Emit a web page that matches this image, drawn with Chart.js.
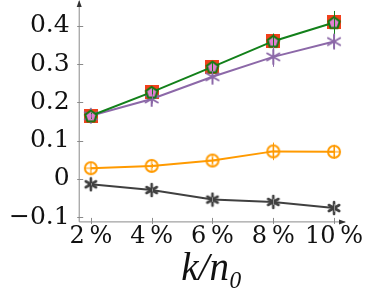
<!DOCTYPE html>
<html>
<head>
<meta charset="utf-8">
<script src="https://cdn.jsdelivr.net/npm/chart.js@4/dist/chart.umd.min.js"></script>
<style>
  html, body { margin: 0; padding: 0; background: #fff; }
  #wrap { width: 370px; height: 293px; }
</style>
</head>
<body>
<div id="wrap"><canvas id="c" width="370" height="293"></canvas></div>
<script>
// --- 資料 ---
const xValues = [2, 4, 6, 8, 10];
const squareVals = [0.165, 0.227, 0.293, 0.360, 0.409];
const greenVals = [0.165, 0.227, 0.293, 0.360, 0.409];
const purpleVals = [0.165, 0.209, 0.267, 0.319, 0.359];
const orangeVals = [0.028, 0.034, 0.048, 0.072, 0.071];
const grayVals = [-0.014, -0.029, -0.054, -0.060, -0.076];

const greenErr = [0.008, 0.010, 0.015, 0.020, 0.030];
const purpleErr = [0.005, 0.012, 0.015, 0.026, 0.020];
const orangeErr = [0.003, 0.005, 0.008, 0.023, 0.018];
const grayErr = [0.003, 0.004, 0.006, 0.008, 0.010];

const yTickStep = 0.1;
const xTickStep = 2;

const pts = (vals) => vals.map((v, i) => ({ x: xValues[i], y: v }));

// --- 標記圖形 ---
function makeMarker(size, drawFn) {
    const cv = document.createElement('canvas');
    cv.width = size; cv.height = size;
    const g = cv.getContext('2d');
    drawFn(g, size / 2);
    return cv;
}

const square = makeMarker(14, (g, c) => {
    g.fillStyle = '#f2401c';
    g.fillRect(0, 0, 14, 14);
});

const pentagon = makeMarker(16, (g, c) => {
    g.beginPath();
    for (let i = 0; i < 5; i++) {
        const a = -Math.PI / 2 + i * 2 * Math.PI / 5;
        const r = 6;
        const px = c + r * Math.cos(a), py = c + 0.7 + r * Math.sin(a);
        i ? g.lineTo(px, py) : g.moveTo(px, py);
    }
    g.closePath();
    g.fillStyle = '#e27fd2';
    g.fill();
    g.lineWidth = 2;
    g.strokeStyle = '#0f7a0f';
    g.stroke();
});

function asterisk(color, r, w) {
    return makeMarker(2 * r + 4, (g, c) => {
        g.strokeStyle = color;
        g.lineWidth = w;
        g.lineCap = 'round';
        for (let i = 0; i < 3; i++) {
            const a = Math.PI / 2 + i * Math.PI / 3;
            g.beginPath();
            g.moveTo(c + r * Math.cos(a), c + r * Math.sin(a));
            g.lineTo(c - r * Math.cos(a), c - r * Math.sin(a));
            g.stroke();
        }
    });
}

const oplus = makeMarker(18, (g, c) => {
    g.strokeStyle = '#ff9a00';
    g.lineWidth = 2;
    g.beginPath();
    g.arc(c, c, 6, 0, Math.PI * 2);
    g.stroke();
    g.lineWidth = 1.2;
    g.beginPath();
    g.moveTo(c - 6, c); g.lineTo(c + 6, c);
    g.moveTo(c, c - 6); g.lineTo(c, c + 6);
    g.stroke();
});

// --- 誤差線與座標軸箭頭 ---
const errorBarPlugin = {
    id: 'errorBars',
    afterDatasetsDraw(chart) {
        const ctx = chart.ctx;
        const ys = chart.scales.y, xs = chart.scales.x;
        chart.data.datasets.forEach(ds => {
            if (!ds.errors) return;
            ctx.save();
            ctx.strokeStyle = ds.errColor || ds.borderColor;
            ctx.lineWidth = 1;
            ds.data.forEach((p, i) => {
                const px = Math.round(xs.getPixelForValue(p.x)) + 0.5;
                ctx.beginPath();
                ctx.moveTo(px, ys.getPixelForValue(p.y + ds.errors[i]));
                ctx.lineTo(px, ys.getPixelForValue(p.y - ds.errors[i]));
                ctx.stroke();
            });
            ctx.restore();
        });
    }
};

const axisPlugin = {
    id: 'axisArrows',
    afterDraw(chart) {
        const ctx = chart.ctx;
        const a = chart.chartArea;
        const xs = chart.scales.x, ys = chart.scales.y;
        const x0 = a.left + 0.5, y0 = a.bottom + 0.5;
        ctx.save();
        ctx.strokeStyle = '#8a8a8a';
        ctx.lineWidth = 1;
        ctx.beginPath();
        ctx.moveTo(x0, y0); ctx.lineTo(x0, a.top);
        ctx.moveTo(x0, y0); ctx.lineTo(a.right, y0);
        // 短刻度
        ys.ticks.forEach(t => {
            const py = Math.round(ys.getPixelForValue(t.value)) + 0.5;
            ctx.moveTo(x0 - 2, py); ctx.lineTo(x0 + 4, py);
        });
        xs.ticks.forEach(t => {
            const px = Math.round(xs.getPixelForValue(t.value)) + 0.5;
            ctx.moveTo(px, y0 + 2); ctx.lineTo(px, y0 - 4);
        });
        ctx.stroke();
        ctx.fillStyle = '#333';
        ctx.beginPath();
        ctx.moveTo(x0, a.top - 1); ctx.lineTo(x0 - 2.5, a.top + 6); ctx.lineTo(x0 + 2.5, a.top + 6);
        ctx.closePath(); ctx.fill();
        ctx.beginPath();
        ctx.moveTo(a.right + 1, y0); ctx.lineTo(a.right - 6, y0 - 2.5); ctx.lineTo(a.right - 6, y0 + 2.5);
        ctx.closePath(); ctx.fill();
        ctx.restore();
    }
};

const serif = "'DejaVu Serif', serif";
const italicSerif = "'Liberation Serif', serif";

// 移除 Chart.js 為首尾刻度標籤保留的邊距
const noEdgePad = scale => {
    scale.paddingTop = 0; scale.paddingBottom = 0;
    scale.paddingLeft = 0; scale.paddingRight = 0;
};

// 圖片標記：半徑設極小，避免 Chart.js 為點保留外圍空間
const markerOpts = { pointRadius: 0.1, pointHoverRadius: 0, pointBorderWidth: 0, clip: false };

new Chart(document.getElementById('c'), {
    type: 'scatter',
    data: {
        datasets: [
            { label: 'green', data: pts(greenVals), errors: greenErr, showLine: true,
              borderColor: '#12801a', borderWidth: 2, pointStyle: pentagon, ...markerOpts },
            { label: 'purple', data: pts(purpleVals), errors: purpleErr, showLine: true,
              borderColor: '#8c68a8', borderWidth: 2, pointStyle: asterisk('#8c68a8', 7, 2), ...markerOpts },
            { label: 'square', data: pts(squareVals), showLine: false,
              borderColor: '#f2401c', pointStyle: square, ...markerOpts },
            { label: 'orange', data: pts(orangeVals), errors: orangeErr, showLine: true,
              borderColor: '#ff9a00', borderWidth: 2, pointStyle: oplus, ...markerOpts },
            { label: 'gray', data: pts(grayVals), errors: grayErr, showLine: true,
              borderColor: '#404040', borderWidth: 2, pointStyle: asterisk('#404040', 6, 2.6),
              errColor: '#909090', ...markerOpts },
        ]
    },
    options: {
        responsive: false,
        animation: false,
        events: [],
        layout: { padding: { left: 0, right: 25, top: 1, bottom: 0 } },
        plugins: { legend: { display: false }, tooltip: { enabled: false } },
        scales: {
            x: {
                type: 'linear', min: 1.6, max: 10.36,
                grid: { display: false, drawTicks: false },
                border: { display: false },
                afterFit: noEdgePad,
                ticks: { stepSize: xTickStep, includeBounds: false, color: '#111', padding: 1,
                         font: { family: serif, size: 24 },
                         maxRotation: 0, autoSkip: false,
                         callback: v => v + '\u2009%' },
                title: { display: true, text: 'k/n\u2080', color: '#111', padding: { top: -6, bottom: 0 },
                         font: { family: italicSerif, size: 39, style: 'italic' } }
            },
            y: {
                type: 'linear', min: -0.111, max: 0.465,
                grid: { display: false, drawTicks: false },
                border: { display: false },
                afterFit: noEdgePad,
                ticks: { stepSize: yTickStep, includeBounds: false, color: '#111', padding: 9,
                         font: { family: serif, size: 25 },
                         callback: v => {
                             const r = Math.round(v * 10) / 10;
                             if (r === 0) return '0';
                             return (r < 0 ? '\u2212' : '') + Math.abs(r).toFixed(1);
                         } }
            }
        }
    },
    plugins: [errorBarPlugin, axisPlugin]
});
</script>
</body>
</html>
